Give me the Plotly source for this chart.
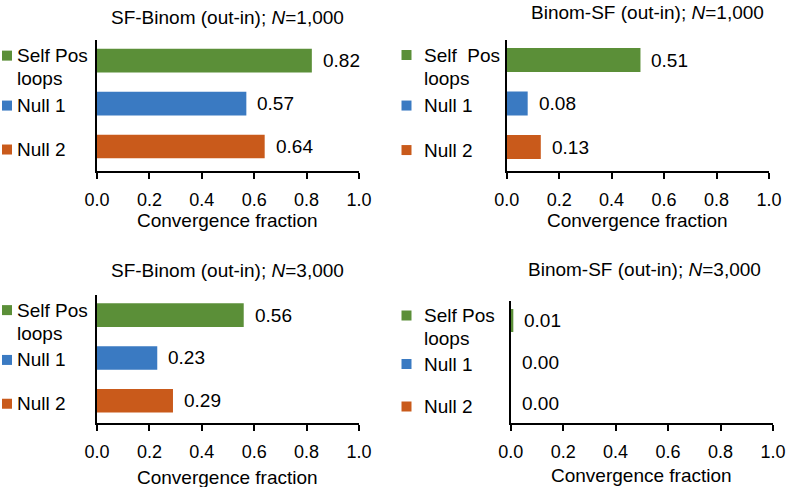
import plotly.graph_objects as go

W, H = 788, 487

categories = ["Self Pos loops", "Null 1", "Null 2"]
bar_colors = ["#5B8F38", "#3A7AC2", "#C95A1B"]

titles = [
    "SF-Binom (out-in); <i>N</i>=1,000",
    "Binom-SF (out-in); <i>N</i>=1,000",
    "SF-Binom (out-in); <i>N</i>=3,000",
    "Binom-SF (out-in); <i>N</i>=3,000",
]
values_tl = [0.82, 0.57, 0.64]
values_tr = [0.51, 0.08, 0.13]
values_bl = [0.56, 0.23, 0.29]
values_br = [0.01, 0.00, 0.00]
value_sets = [values_tl, values_tr, values_bl, values_br]

x_ticks = [0.0, 0.2, 0.4, 0.6, 0.8, 1.0]
x_tick_labels = ["0.0", "0.2", "0.4", "0.6", "0.8", "1.0"]
x_title = "Convergence fraction"

# layout (pixels)
panels = [
    dict(x0=97, x1=359, y0=40, y1=171, yr=[2.57, -0.48], ty=18, tx=228, xt=220,
         sq=7, lx=15, first="Self Pos"),
    dict(x0=506.7, x1=769, y0=40, y1=171, yr=[2.55, -0.46], ty=12, tx=647, xt=220,
         sq=406.5, lx=422, first="Self\u00a0 Pos"),
    dict(x0=97, x1=359, y0=295, y1=423, yr=[2.52, -0.47], ty=270, tx=228, xt=477,
         sq=7, lx=15, first="Self Pos"),
    dict(x0=510.7, x1=773, y0=301, y1=423, yr=[2.47, -0.47], ty=269, tx=644, xt=475,
         sq=406.5, lx=422, first="Self Pos"),
]

FONT = "Liberation Sans, Arial, Helvetica, sans-serif"
FS = 19

def px(x):
    return x / W

def py(y):
    return 1 - y / H

fig = go.Figure()
annotations = []
shapes = []
layout_axes = {}

for i, (p, vals, title) in enumerate(zip(panels, value_sets, titles)):
    n = "" if i == 0 else str(i + 1)
    xa, ya = "x" + n, "y" + n
    fig.add_trace(go.Bar(
        x=vals, y=list(range(len(categories))), orientation="h",
        marker=dict(color=bar_colors, line=dict(width=0)),
        width=0.55, xaxis=xa, yaxis=ya, showlegend=False, hoverinfo="x",
    ))
    layout_axes["xaxis" + n] = dict(
        domain=[px(p["x0"]), px(p["x1"])], anchor=ya, range=[0, 1],
        tickmode="array", tickvals=x_ticks, ticktext=x_tick_labels,
        showline=True, linecolor="black", linewidth=2,
        ticks="outside", ticklen=6, tickwidth=2, tickcolor="black",
        showgrid=False, zeroline=False, ticklabelstandoff=5, automargin=False,
        tickfont=dict(family=FONT, size=FS - 1, color="black"), fixedrange=True,
    )
    layout_axes["yaxis" + n] = dict(
        domain=[py(p["y1"]), py(p["y0"])], anchor=xa, range=p["yr"],
        showline=True, linecolor="black", linewidth=2, ticks="", automargin=False,
        showticklabels=False, showgrid=False, zeroline=False, fixedrange=True,
    )
    annotations.append(dict(text=title, xref="paper", yref="paper",
                            x=px(p["tx"]), y=py(p["ty"]), xanchor="center", yanchor="middle",
                            showarrow=False, font=dict(family=FONT, size=FS, color="black")))
    annotations.append(dict(text=x_title, xref="paper", yref="paper",
                            x=px((p["x0"] + p["x1"]) / 2), y=py(p["xt"]),
                            xanchor="center", yanchor="middle",
                            showarrow=False, font=dict(family=FONT, size=FS, color="black")))
    for k, v in enumerate(vals):
        annotations.append(dict(text=f"{v:.2f}", xref=xa, yref=ya, x=v, y=k,
                                xanchor="left", yanchor="middle", xshift=9,
                                showarrow=False,
                                font=dict(family=FONT, size=FS, color="black")))
    offsets = [-5, 2, 3]
    for k, cat in enumerate(categories):
        lines = [p["first"], "loops"] if k == 0 else [cat]
        annotations.append(dict(text=lines[0], xref="paper", yref=ya, x=px(p["lx"]), y=k,
                                xanchor="left", yanchor="middle", yshift=-offsets[k],
                                showarrow=False, font=dict(family=FONT, size=FS, color="black")))
        if len(lines) > 1:
            annotations.append(dict(text=lines[1], xref="paper", yref=ya, x=px(p["lx"]), y=k,
                                    xanchor="left", yanchor="middle", yshift=-18,
                                    showarrow=False, font=dict(family=FONT, size=FS, color="black")))
        shapes.append(dict(type="rect", xref="paper", yref=ya,
                           xsizemode="pixel", ysizemode="pixel",
                           xanchor=px(p["sq"]), yanchor=k,
                           x0=-5, x1=5, y0=-offsets[k] - 5, y1=-offsets[k] + 5,
                           fillcolor=bar_colors[k], line=dict(width=0)))

fig.update_layout(
    width=W, height=H, margin=dict(l=0, r=0, t=0, b=0, autoexpand=False),
    paper_bgcolor="white", plot_bgcolor="white",
    annotations=annotations, shapes=shapes, showlegend=False,
    **layout_axes,
)

fig.write_html("out.html", config={"responsive": False, "displayModeBar": False},
               post_script="document.body.style.margin='0';document.body.style.overflow='hidden';")
